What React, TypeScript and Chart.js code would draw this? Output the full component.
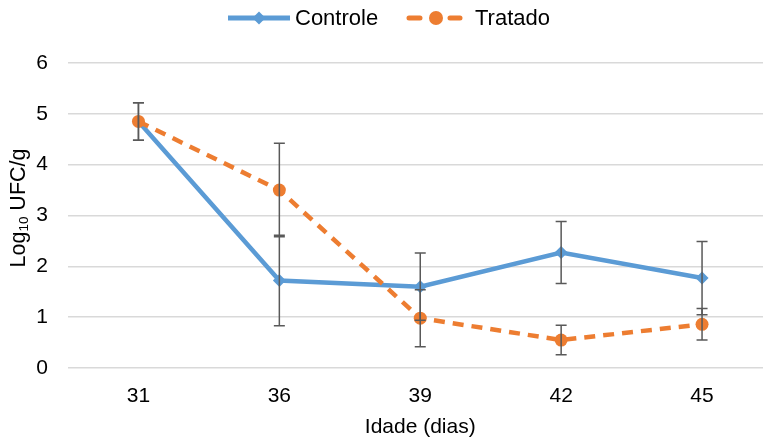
import React, { useEffect, useRef } from "react";
import { Chart, registerables } from "chart.js";

Chart.register(...registerables);

const categories = ["31", "36", "39", "42", "45"];
const controle = [4.85, 1.72, 1.6, 2.27, 1.77];
const tratado = [4.85, 3.5, 0.98, 0.55, 0.86];
const controleErr = [0.37, 0.89, 0.66, 0.61, 0.72];
const tratadoErr = [0.37, 0.92, 0.56, 0.29, 0.31];
const yTicks = [0, 1, 2, 3, 4, 5, 6];

const BLUE = "#5B9BD5";
const ORANGE = "#ED7D31";
const FONT = "Liberation Sans, Arial, sans-serif";

const errorBarPlugin = {
  id: "errorBars",
  afterDatasetsDraw(chart: any) {
    const ctx = chart.ctx;
    const x = chart.scales.x;
    const y = chart.scales.y;
    const sets = [
      { vals: controle, errs: controleErr },
      { vals: tratado, errs: tratadoErr },
    ];
    ctx.save();
    ctx.strokeStyle = "#595959";
    ctx.lineWidth = 1.5;
    sets.forEach((s) => {
      s.vals.forEach((v, i) => {
        const px = x.getPixelForValue(i);
        const top = y.getPixelForValue(v + s.errs[i]);
        const bot = y.getPixelForValue(v - s.errs[i]);
        ctx.beginPath();
        ctx.moveTo(px, top);
        ctx.lineTo(px, bot);
        ctx.moveTo(px - 5.5, top);
        ctx.lineTo(px + 5.5, top);
        ctx.moveTo(px - 5.5, bot);
        ctx.lineTo(px + 5.5, bot);
        ctx.stroke();
      });
    });
    ctx.restore();
  },
};

const decorPlugin = {
  id: "decor",
  afterDraw(chart: any) {
    const ctx = chart.ctx;
    ctx.save();
    // Y axis title with subscript
    const cy = 208;
    ctx.translate(19, cy);
    ctx.rotate(-Math.PI / 2);
    ctx.fillStyle = "#000";
    ctx.textBaseline = "middle";
    ctx.textAlign = "left";
    const big = `21.5px ${FONT}`;
    const small = `13.5px ${FONT}`;
    ctx.font = big;
    const w1 = ctx.measureText("Log").width;
    const w3 = ctx.measureText(" UFC/g").width;
    ctx.font = small;
    const w2 = ctx.measureText("10").width;
    const total = w1 + w2 + w3;
    let sx = -total / 2;
    ctx.font = big;
    ctx.fillText("Log", sx, 0);
    sx += w1;
    ctx.font = small;
    ctx.fillText("10", sx, 5);
    sx += w2;
    ctx.font = big;
    ctx.fillText(" UFC/g", sx, 0);
    ctx.restore();

    // Legend
    ctx.save();
    const ly = 18;
    ctx.lineWidth = 5;
    ctx.strokeStyle = BLUE;
    ctx.beginPath();
    ctx.moveTo(228, ly);
    ctx.lineTo(290, ly);
    ctx.stroke();
    ctx.fillStyle = BLUE;
    ctx.beginPath();
    ctx.moveTo(259, ly - 6.5);
    ctx.lineTo(265.5, ly);
    ctx.lineTo(259, ly + 6.5);
    ctx.lineTo(252.5, ly);
    ctx.closePath();
    ctx.fill();
    ctx.strokeStyle = ORANGE;
    ctx.lineCap = "round";
    ctx.beginPath();
    ctx.moveTo(409, ly);
    ctx.lineTo(420, ly);
    ctx.moveTo(450, ly);
    ctx.lineTo(460, ly);
    ctx.stroke();
    ctx.fillStyle = ORANGE;
    ctx.beginPath();
    ctx.arc(436, ly, 7, 0, Math.PI * 2);
    ctx.fill();
    ctx.fillStyle = "#000";
    ctx.font = `22px ${FONT}`;
    ctx.textBaseline = "middle";
    ctx.textAlign = "left";
    ctx.fillText("Controle", 295, ly + 1);
    ctx.fillText("Tratado", 475, ly + 1);
    ctx.restore();
  },
};

export default function App() {
  const ref = useRef<HTMLCanvasElement>(null);
  useEffect(() => {
    if (!ref.current) return;
    const chart = new Chart(ref.current, {
      type: "line",
      data: {
        labels: categories,
        datasets: [
          {
            label: "Controle",
            data: controle,
            borderColor: BLUE,
            backgroundColor: BLUE,
            borderWidth: 4.5,
            pointStyle: "rectRot",
            pointRadius: 6.5,
            pointBorderWidth: 0,
            pointBackgroundColor: BLUE,
            tension: 0,
            order: 2,
          },
          {
            label: "Tratado",
            data: tratado,
            borderColor: ORANGE,
            backgroundColor: ORANGE,
            borderWidth: 4.5,
            borderDash: [11, 8],
            pointStyle: "circle",
            pointRadius: 6.5,
            pointBorderWidth: 0,
            pointBackgroundColor: ORANGE,
            tension: 0,
            order: 1,
          },
        ],
      },
      options: {
        responsive: false,
        animation: false,
        devicePixelRatio: 1,
        layout: { padding: { top: 63, left: 0, right: 0, bottom: 0 } },
        plugins: {
          legend: { display: false },
          tooltip: { enabled: false },
        },
        scales: {
          x: {
            offset: true,
            grid: { display: false },
            border: { display: false },
            ticks: {
              color: "#000",
              font: { size: 21, family: FONT },
              padding: 8,
            },
            title: {
              display: true,
              text: "Idade (dias)",
              color: "#000",
              font: { size: 21, family: FONT },
              padding: { top: 0, bottom: 0 },
            },
            afterFit: (s: any) => {
              s.height = 72;
            },
          },
          y: {
            min: 0,
            max: 6,
            afterBuildTicks: (s: any) => {
              s.ticks = yTicks.map((v) => ({ value: v }));
            },
            grid: { color: "#D9D9D9", lineWidth: 1.5, drawTicks: false },
            border: { display: false },
            ticks: {
              color: "#000",
              font: { size: 21, family: FONT },
              padding: 20,
            },
            afterFit: (s: any) => {
              s.width = 68;
            },
          },
        },
      },
      plugins: [errorBarPlugin, decorPlugin],
    });
    return () => chart.destroy();
  }, []);
  return (
    <div
      style={{
        position: "absolute",
        left: 0,
        top: 0,
        width: 763,
        height: 440,
        overflow: "hidden",
        background: "#fff",
      }}
    >
      <canvas ref={ref} width={779} height={440} style={{ display: "block" }} />
    </div>
  );
}
